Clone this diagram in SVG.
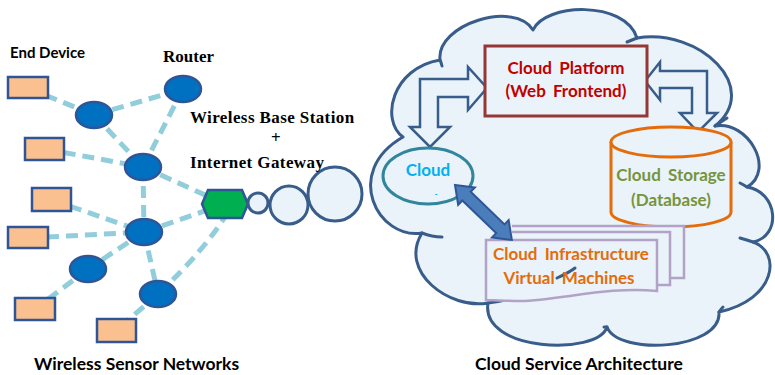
<svg xmlns="http://www.w3.org/2000/svg" width="775" height="375" viewBox="0 0 775 375">
<style>
.dash{stroke:#92cddc;stroke-width:5;stroke-dasharray:12 7;fill:none}
.dev{fill:#fac090;stroke:#2f5597;stroke-width:2.5}
.rt{fill:#0070c0;stroke:#2f5597;stroke-width:2.5}
.bub{fill:#e9f3f9;stroke:#385d8a;stroke-width:3}
.cl{fill:#e9f3f9;stroke:#385d8a;stroke-width:3;stroke-linejoin:round}
.arc{fill:none;stroke:#385d8a;stroke-width:3;stroke-linecap:round}
.blk{fill:#e9f3f9;stroke:#385d8a;stroke-width:2.5;stroke-linejoin:miter}
.ser{font-family:"Liberation Serif","Times New Roman",serif;font-weight:bold;font-size:17px;fill:#000}
.sans{font-family:Lato,"Liberation Sans",sans-serif;font-weight:bold;fill:#000}
.ct{font-family:Lato,"Liberation Sans",sans-serif;font-weight:bold;font-size:17px;text-anchor:middle;word-spacing:3px}
</style>
<defs>
<clipPath id="svcClip"><rect x="380" y="140" width="100" height="55"/></clipPath>
</defs>

<g id="connectors">
<line class="dash" x1="28" y1="88" x2="94" y2="115"/>
<line class="dash" x1="94" y1="115" x2="183" y2="89"/>
<line class="dash" x1="94" y1="115" x2="143" y2="167"/>
<line class="dash" x1="183" y1="89" x2="143" y2="167"/>
<line class="dash" x1="45" y1="149" x2="143" y2="167"/>
<line class="dash" x1="143" y1="167" x2="225" y2="204"/>
<line class="dash" x1="143" y1="167" x2="144" y2="232"/>
<line class="dash" x1="52" y1="200" x2="144" y2="232"/>
<line class="dash" x1="28" y1="238" x2="144" y2="232"/>
<line class="dash" x1="144" y1="232" x2="225" y2="204"/>
<line class="dash" x1="144" y1="232" x2="88" y2="269"/>
<line class="dash" x1="88" y1="269" x2="35" y2="309"/>
<line class="dash" x1="144" y1="232" x2="158" y2="294"/>
<line class="dash" x1="158" y1="294" x2="117" y2="330"/>
<path class="dash" d="M228,212 Q205,250 158,294"/>
</g>

<g id="end-devices">
<rect class="dev" x="8" y="77" width="40" height="21"/>
<rect class="dev" x="25" y="138" width="39" height="22"/>
<rect class="dev" x="32" y="188" width="39" height="23"/>
<rect class="dev" x="8" y="227" width="40" height="21"/>
<rect class="dev" x="15" y="298" width="40" height="22"/>
<rect class="dev" x="97" y="319" width="39" height="23"/>
</g>

<g id="routers">
<ellipse class="rt" cx="94" cy="115" rx="18" ry="13"/>
<ellipse class="rt" cx="183" cy="89" rx="18" ry="13"/>
<ellipse class="rt" cx="143" cy="167" rx="18" ry="13"/>
<ellipse class="rt" cx="144" cy="232" rx="18" ry="13"/>
<ellipse class="rt" cx="88" cy="269" rx="18" ry="13"/>
<ellipse class="rt" cx="158" cy="294" rx="18" ry="13"/>
</g>

<g id="gateway">
<polygon points="202,204 208,190 242,190 248,204 242,218 208,218" fill="#00b050" stroke="#2f5597" stroke-width="2.5"/>
</g>

<g id="link-bubbles">
<circle class="bub" cx="258" cy="203" r="10"/>
<circle class="bub" cx="289" cy="205" r="19"/>
<circle class="bub" cx="335" cy="194" r="27"/>
</g>

<g id="labels-left">
<text class="sans" x="10" y="58" font-size="15">End Device</text>
<text class="ser" x="163" y="62">Router</text>
<text class="ser" x="190" y="123" letter-spacing="0.4">Wireless Base Station</text>
<text class="ser" x="271" y="143">+</text>
<text class="ser" x="190" y="168" letter-spacing="0.4">Internet Gateway</text>
<text class="sans" x="34" y="370" font-size="17.5">Wireless Sensor Networks</text>
</g>

<g id="cloud">
<path class="cl" d="M403,137 C380,120 392,68 440,60 C436,24 515,0 533,30 C545,3 625,0 637,38 C700,28 762,88 715,126 C748,120 776,170 747,187 C778,192 782,236 753,242 C782,252 776,300 719,312 C722,350 618,356 607,327 C598,356 480,352 488,303 C450,310 398,272 422,233 C378,240 342,172 403,137 Z"/>
<path class="arc" d="M422,233 Q432,237 442,237"/>
<path class="arc" d="M488,303 Q528,298 557,278"/>
<path class="arc" d="M440,60 Q441,62 442,66"/>
<path class="arc" d="M637,38 Q632,40 627,42"/>
<path class="arc" d="M715,126 Q721,122 727,118"/>
<path class="arc" d="M747,187 Q744,185 740,183"/>
<path class="arc" d="M753,242 Q747,240 740,238"/>
<path class="arc" d="M719,312 Q721,309 723,307"/>
<path class="arc" d="M607,327 Q606,327 604,327"/>
</g>

<g id="cloud-arrows">
<polygon class="blk" points="420,79 468,79 468,67 487,88 468,110 468,97 438,97 438,127 450,127 430,147 410,127 420,127"/>
<polygon class="blk" points="645,81 660,62 660,71 707,71 707,113 717,113 698,132 680,113 692,113 692,88 660,88 660,100"/>
</g>

<g id="cloud-platform">
<rect x="485" y="46" width="162" height="70" fill="#e9f3f9" stroke="#953735" stroke-width="3"/>
<text class="ct" x="566" y="74" fill="#c00000">Cloud Platform</text>
<text class="ct" x="566" y="97" fill="#c00000">(Web Frontend)</text>
</g>

<g id="cloud-service">
<ellipse cx="428" cy="176" rx="45" ry="28" fill="#e9f3f9" stroke="#31859c" stroke-width="3"/>
<text class="ct" x="428" y="176" fill="#00b0f0">Cloud</text>
<text class="ct" x="428" y="207" fill="#00b0f0" clip-path="url(#svcClip)">Service</text>
</g>

<g id="cloud-storage">
<path d="M611,142 L611,212 A60,15 0 0 0 731,212 L731,142" fill="#e9f3f9" stroke="#e46c0a" stroke-width="3"/>
<ellipse cx="671" cy="142" rx="60" ry="15" fill="#e9f3f9" stroke="#e46c0a" stroke-width="3"/>
<text class="ct" x="671" y="181" fill="#77933c">Cloud Storage</text>
<text class="ct" x="671" y="206" fill="#77933c">(Database)</text>
</g>

<g id="cloud-infrastructure">
<path d="M512,226 L684,226 L684,278 L670,278" fill="#e9f3f9" stroke="#b3a2c7" stroke-width="2.5"/>
<path d="M512,232 L670,232 L670,285 L657,285" fill="#e9f3f9" stroke="#b3a2c7" stroke-width="2.5"/>
<path d="M486,240 L657,240 L657,291 C610,286 560,300 520,301 C505,301 495,300 486,300 Z" fill="#e9f3f9" stroke="#b3a2c7" stroke-width="2.5"/>
<path class="arc" d="M557,278 Q570,272 575,268" />
<text class="ct" x="571" y="260" fill="#e46c0a" font-size="16">Cloud Infrastructure</text>
<text class="ct" x="569" y="284" fill="#e46c0a" font-size="16">Virtual Machines</text>
</g>

<g id="service-vm-arrow">
<polygon transform="translate(455,185) rotate(44)" points="0,0 16,-12 16,-6 63,-6 63,-12 79,0 63,12 63,6 16,6 16,12" fill="#4a7ebb" stroke="#2f5597" stroke-width="2"/>
</g>

<text class="sans" x="475" y="370" font-size="17.5">Cloud Service Architecture</text>
</svg>
